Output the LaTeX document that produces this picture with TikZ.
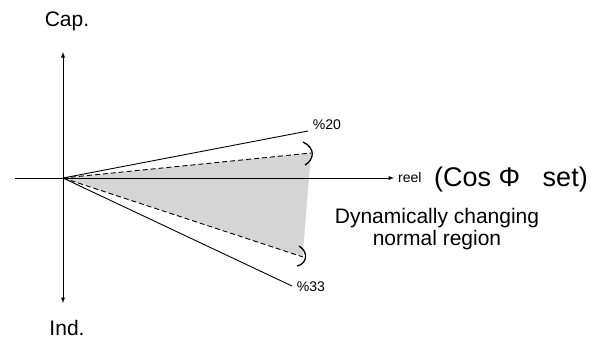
\documentclass[tikz,border=0pt]{standalone}
\usepackage{fontspec}
\setmainfont{Liberation Sans}

\definecolor{regiongray}{RGB}{212,213,212}

\begin{document}
\begin{tikzpicture}[x=1pt,y=-1pt,inner sep=0pt]
	\useasboundingbox (0,0) rectangle (599,341);
	\tikzset{
		axis/.style={-latex,line width=0.9pt},
		limit/.style={line width=0.9pt},
		band/.style={line width=0.9pt,dash pattern=on 5pt off 3pt},
		small/.style={font=\fontsize{14}{16}\selectfont},
		big/.style={font=\fontsize{21}{22}\selectfont}
	}

	\coordinate (origin) at (63,178);
	\coordinate (capEnd) at (63,52);
	\coordinate (indEnd) at (63,303);
	\coordinate (leftEnd) at (15,178);
	\coordinate (reelEnd) at (394,178);

	\node[big] (cap) at (67,21) {Cap.};
	\node[big] (ind) at (67,328) {Ind.};

	% normal region
	\coordinate (upTop) at (311,153);
	\coordinate (lowTop) at (303,257);
	\fill[regiongray] (origin) -- (upTop) -- (303,252) -- (lowTop) -- cycle;

		\path[axis] (origin) edge (capEnd);
		\path[axis] (origin) edge (indEnd);
		\path[axis] (leftEnd) edge (reelEnd);

	\coordinate (up20) at (308,131);
	\coordinate (low33) at (292,286);
		\path[limit] (origin) edge (up20);
		\path[limit] (origin) edge (low33);
		\path[band] (origin) edge (upTop);
		\path[band] (origin) edge (lowTop);

	% brackets
	\coordinate (ubA) at (303,142);
	\coordinate (ubB) at (305,165);
	\draw[line width=1.3pt] (ubA) .. controls (316,148) and (314,160) .. (ubB);
	\coordinate (lbA) at (299,246);
	\coordinate (lbB) at (297,266);
	\draw[line width=1.3pt] (lbA) .. controls (309,252) and (307,264) .. (lbB);

	\node[small] (p20) at (327,125) {\%20};
	\node[small] (p33) at (311,287) {\%33};

	\node[small,anchor=west] (reel) at (398,177) {reel};
	\node[font=\fontsize{27}{30}\selectfont,anchor=west] (cosphi) at (434,180) {(Cos Φ\ \ \ set)};
	\node[big,align=center] (region) at (437,229) {Dynamically changing\\normal region};
\end{tikzpicture}
\end{document}
